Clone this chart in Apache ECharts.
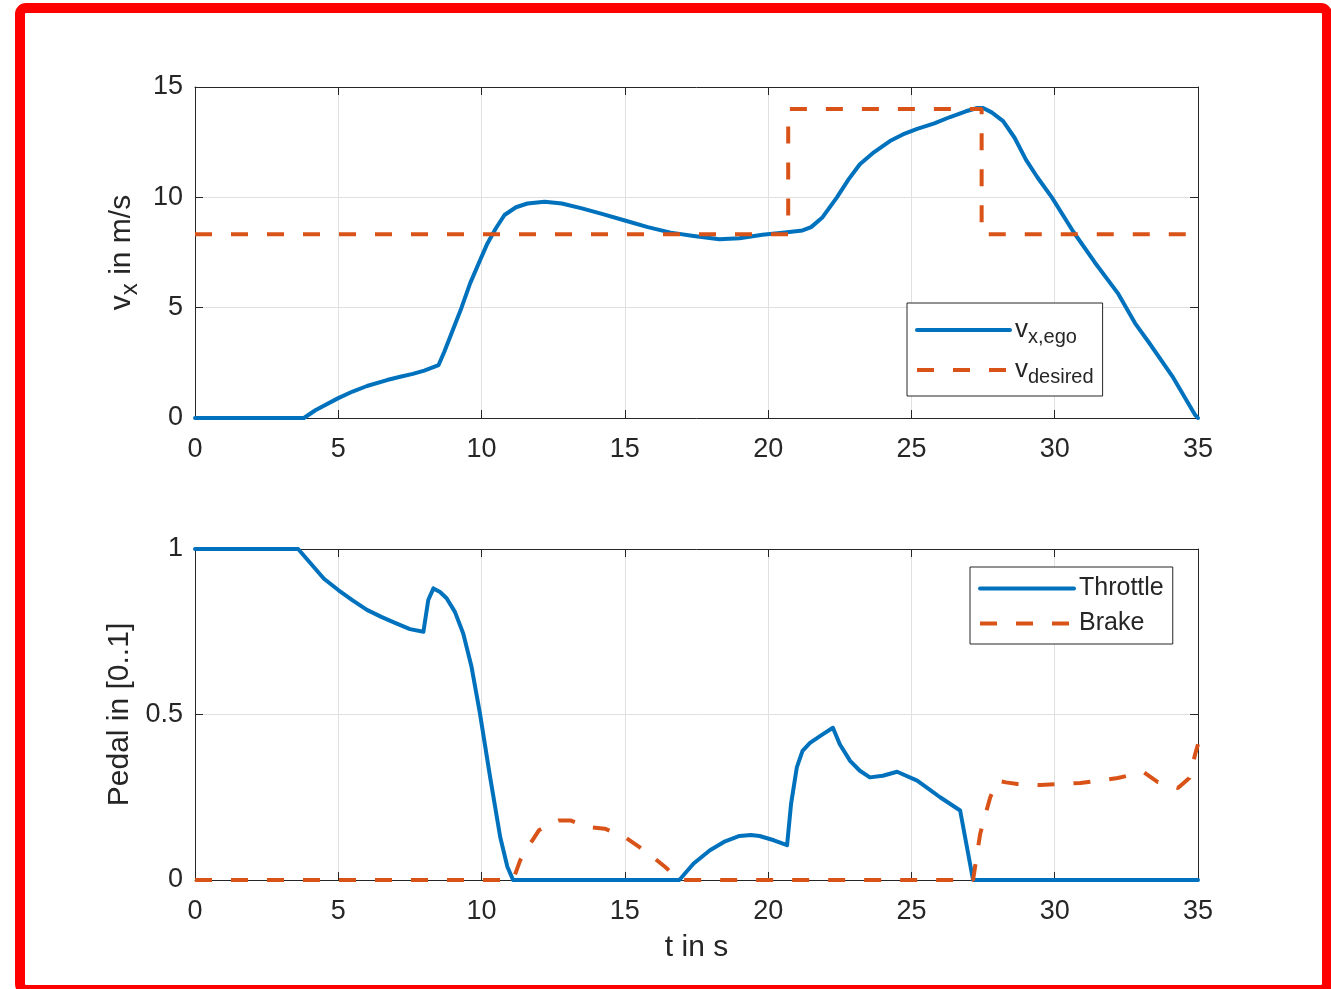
<!DOCTYPE html>
<html>
<head>
<meta charset="utf-8">
<style>
html,body{margin:0;padding:0;background:#fff;}
#c{width:1331px;height:989px;}
</style>
<script src="https://cdn.jsdelivr.net/npm/echarts@6/dist/echarts.min.js"></script>
</head>
<body>
<div id="c"></div>
<script>
// ---- data ----
const xTicks = [0, 5, 10, 15, 20, 25, 30, 35];
const tEgo = [0, 3.8, 4.2, 5.0, 5.5, 6.0, 6.7, 7.2, 7.6, 8.0, 8.5, 8.7, 9.0, 9.3, 9.6, 9.95, 10.2, 10.5, 10.8, 11.2, 11.6, 12.2, 12.8, 13.5, 14.2, 15.0, 15.8, 16.6, 17.4, 18.3, 19.0, 19.8, 20.5, 21.2, 21.5, 21.9, 22.4, 22.8, 23.2, 23.7, 24.25, 24.7, 25.2, 25.8, 26.35, 26.9, 27.3, 27.5, 27.8, 28.2, 28.6, 29.0, 29.4, 29.9, 30.65, 31.4, 32.2, 32.8, 33.3, 34.1, 34.9, 35];
const vEgo = [0, 0, 0.35, 0.9, 1.2, 1.45, 1.72, 1.88, 2.0, 2.15, 2.4, 3.0, 4.0, 5.0, 6.1, 7.16, 7.9, 8.6, 9.2, 9.55, 9.72, 9.8, 9.72, 9.5, 9.25, 8.95, 8.65, 8.4, 8.25, 8.1, 8.15, 8.3, 8.4, 8.5, 8.65, 9.1, 10.0, 10.8, 11.5, 12.05, 12.55, 12.85, 13.1, 13.35, 13.64, 13.9, 14.05, 14.05, 13.85, 13.45, 12.7, 11.7, 10.9, 10.0, 8.44, 7.05, 5.66, 4.3, 3.4, 1.9, 0.14, 0];
const tDes = [0, 20.7, 20.7, 27.45, 27.45, 35];
const vDes = [8.33, 8.33, 14, 14, 8.33, 8.33];
const tThr = [0, 3.6, 4.0, 4.5, 5.0, 5.5, 6.0, 6.5, 7.0, 7.5, 7.97, 8.14, 8.32, 8.55, 8.78, 9.07, 9.36, 9.65, 9.94, 10.3, 10.65, 10.9, 11.1, 16.9, 17.4, 17.97, 18.5, 19.0, 19.4, 19.7, 20.2, 20.66, 20.8, 21.0, 21.2, 21.46, 21.9, 22.26, 22.5, 22.86, 23.2, 23.55, 24.0, 24.5, 25.2, 25.6, 26.0, 26.7, 27.15, 35];
const vThr = [1, 1, 0.96, 0.91, 0.876, 0.845, 0.816, 0.795, 0.776, 0.758, 0.75, 0.846, 0.881, 0.87, 0.851, 0.81, 0.745, 0.644, 0.505, 0.31, 0.13, 0.04, 0, 0, 0.05, 0.09, 0.117, 0.133, 0.136, 0.133, 0.12, 0.105, 0.23, 0.34, 0.39, 0.414, 0.44, 0.46, 0.41, 0.36, 0.33, 0.31, 0.315, 0.327, 0.30, 0.275, 0.25, 0.21, 0, 0];
const tBrk = [0, 11.1, 11.35, 11.7, 12.0, 12.4, 12.7, 13.1, 13.7, 14.3, 15.0, 15.5, 15.9, 16.4, 16.9, 27.15, 27.4, 27.75, 28.0, 28.3, 28.7, 29.5, 30.9, 32.2, 33.1, 33.6, 34.3, 34.7, 34.9, 35];
const vBrk = [0, 0, 0.06, 0.11, 0.15, 0.17, 0.18, 0.18, 0.16, 0.155, 0.13, 0.10, 0.075, 0.04, 0, 0, 0.14, 0.25, 0.30, 0.295, 0.29, 0.287, 0.293, 0.308, 0.326, 0.296, 0.278, 0.308, 0.38, 0.41];

const zip = (a, b) => a.map((t, i) => [t, b[i]]);

const AX = '#262626';
const GRIDC = '#e0e0e0';
const BLUE = '#0072BD';
const ORANGE = '#D95319';
const FONT = 'Liberation Sans, Arial, Helvetica, sans-serif';
const FS = 27;
const FSN = 30;

function xAx(grid, bottom) {
  return {
    type: 'value', gridIndex: grid, min: 0, max: 35, interval: 5,
    position: bottom ? 'bottom' : 'top',
    axisLine: {show: true, onZero: false, lineStyle: {color: AX, width: 1}},
    axisTick: {show: true, inside: true, length: 8, lineStyle: {color: AX}},
    axisLabel: {show: bottom, margin: 18, color: AX, fontSize: FS, fontFamily: FONT},
    splitLine: {show: bottom, lineStyle: {color: GRIDC, width: 1}}
  };
}
function yAx(grid, left, min, max, interval) {
  return {
    type: 'value', gridIndex: grid, min: min, max: max, interval: interval,
    position: left ? 'left' : 'right',
    axisLine: {show: true, onZero: false, lineStyle: {color: AX, width: 1}},
    axisTick: {show: true, inside: true, length: 8, lineStyle: {color: AX}},
    axisLabel: {show: left, margin: 12, color: AX, fontSize: FS, fontFamily: FONT},
    splitLine: {show: left, lineStyle: {color: GRIDC, width: 1}}
  };
}

const xA0 = xAx(0, true);
const xA1 = xAx(0, false);
const xA2 = xAx(1, true);
xA2.name = 't in s';
xA2.nameLocation = 'middle';
xA2.nameGap = 53;
xA2.nameTextStyle = {color: AX, fontSize: FSN, fontFamily: FONT};
const xA3 = xAx(1, false);

const yA0 = yAx(0, true, 0, 15, 5);
yA0.name = '{v|v}{s|x}{v| in m/s}';
yA0.nameLocation = 'middle';
yA0.nameGap = 52;
yA0.nameTextStyle = {
  color: AX, fontFamily: FONT,
  rich: {
    v: {fontSize: FSN, lineHeight: 40, color: AX, fontFamily: FONT},
    s: {fontSize: 24, lineHeight: 6, verticalAlign: 'bottom', color: AX, fontFamily: FONT}
  }
};
const yA1 = yAx(0, false, 0, 15, 5);
const yA2 = yAx(1, true, 0, 1, 0.5);
yA2.name = 'Pedal in [0..1]';
yA2.nameLocation = 'middle';
yA2.nameGap = 53;
yA2.nameTextStyle = {color: AX, fontSize: FSN, fontFamily: FONT};
const yA3 = yAx(1, false, 0, 1, 0.5);

const richLeg = {
  v: {fontSize: 26, lineHeight: 34, color: AX, fontFamily: FONT},
  s: {fontSize: 20, lineHeight: 10, verticalAlign: 'bottom', color: AX, fontFamily: FONT}
};

const option = {
  animation: false,
  backgroundColor: '#ffffff',
  textStyle: {fontFamily: FONT},
  graphic: [{
    type: 'rect', z: 100, silent: true,
    shape: {x: 20, y: 8, width: 1307, height: 982, r: 6},
    style: {fill: 'none', stroke: '#ff0000', lineWidth: 10}
  }],
  grid: [
    {left: 195, top: 87, width: 1003, height: 331},
    {left: 195, top: 549, width: 1003, height: 331}
  ],
  xAxis: [xA0, xA1, xA2, xA3],
  yAxis: [yA0, yA1, yA2, yA3],
  legend: [
    {
      data: ['vego', 'vdes'], orient: 'vertical', left: 907, top: 303,
      padding: [14, 9, 9, 8], itemGap: 10, itemWidth: 93, itemHeight: 14, itemTextGap: 6,
      backgroundColor: '#fff', borderColor: AX, borderWidth: 1, borderRadius: 0,
      itemStyle: {opacity: 0},
      lineStyle: {width: 4},
      formatter: function (n) { return n === 'vego' ? '{v|v}{s|x,ego}' : '{v|v}{s|desired}'; },
      textStyle: {color: AX, fontFamily: FONT, rich: richLeg}
    },
    {
      data: ['Throttle', 'Brake'], orient: 'vertical', left: 970, top: 567,
      padding: [9, 9, 8, 8], itemGap: 10, itemWidth: 94, itemHeight: 14, itemTextGap: 5,
      backgroundColor: '#fff', borderColor: AX, borderWidth: 1, borderRadius: 0,
      itemStyle: {opacity: 0},
      lineStyle: {width: 4},
      textStyle: {color: AX, fontFamily: FONT, fontSize: 25, lineHeight: 24}
    }
  ],
  series: [
    {
      name: 'vego', type: 'line', xAxisIndex: 0, yAxisIndex: 0, data: zip(tEgo, vEgo),
      symbol: 'none', lineStyle: {color: BLUE, width: 4, join: 'round', cap: 'round'}, itemStyle: {color: BLUE}
    },
    {
      name: 'vdes', type: 'line', xAxisIndex: 0, yAxisIndex: 0, data: zip(tDes, vDes),
      symbol: 'none', lineStyle: {color: ORANGE, width: 4, type: [17, 19]}, itemStyle: {color: ORANGE}
    },
    {
      name: 'Throttle', type: 'line', xAxisIndex: 2, yAxisIndex: 2, data: zip(tThr, vThr),
      symbol: 'none', lineStyle: {color: BLUE, width: 4, join: 'round', cap: 'round'}, itemStyle: {color: BLUE}
    },
    {
      name: 'Brake', type: 'line', xAxisIndex: 2, yAxisIndex: 2, data: zip(tBrk, vBrk),
      symbol: 'none', lineStyle: {color: ORANGE, width: 4, type: [17, 19]}, itemStyle: {color: ORANGE}
    }
  ]
};

const chart = echarts.init(document.getElementById('c'), null, {renderer: 'canvas'});
chart.setOption(option);
</script>
</body>
</html>
